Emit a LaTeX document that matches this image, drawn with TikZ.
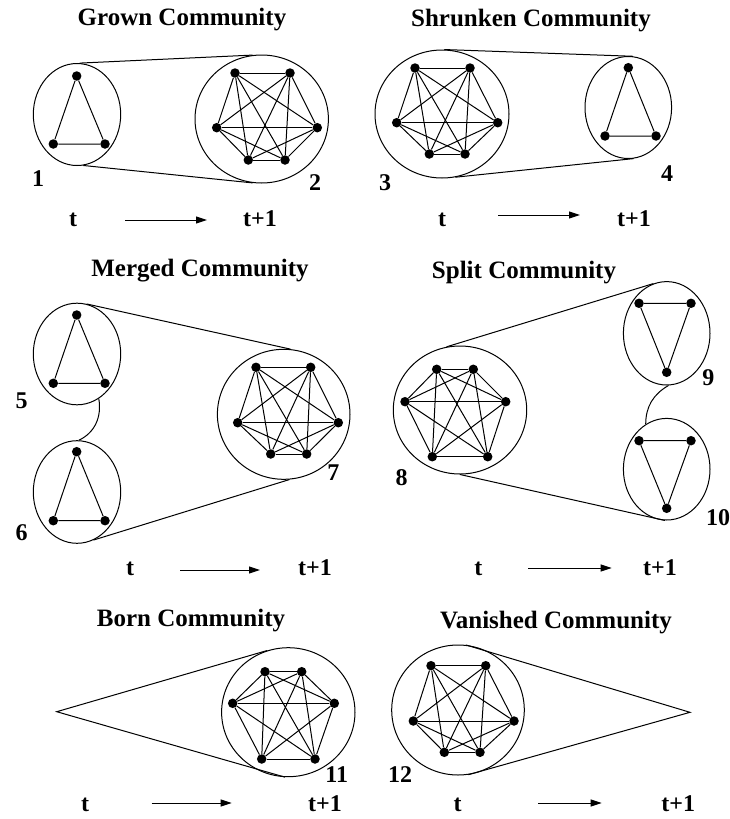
\documentclass[tikz,border=0pt]{standalone}
\usepackage{fontspec}
\setmainfont{Liberation Serif}
\usetikzlibrary{shapes.geometric,arrows.meta}
\tikzset{
 dot/.style={circle,fill=black,inner sep=0pt,minimum size=9.5pt},
 edge/.style={line width=1pt},
 comm/.style={draw,ellipse,inner sep=0pt,line width=1pt},
 ttl/.style={font=\fontsize{25}{28}\selectfont\bfseries,anchor=base},
 lbl/.style={font=\fontsize{24}{28}\selectfont\bfseries,anchor=base},
 tarrow/.style={line width=1pt,-{Triangle[length=11pt,width=7pt]}},
}
\newcommand{\kfull}[7]{%
 \node[dot] (#1a) at (#2) {};
 \node[dot] (#1b) at (#3) {};
 \node[dot] (#1c) at (#4) {};
 \node[dot] (#1d) at (#5) {};
 \node[dot] (#1e) at (#6) {};
 \node[dot] (#1f) at (#7) {};
 \foreach \u/\v in {a/b,a/c,a/d,a/e,a/f,b/c,b/d,b/e,b/f,c/d,c/e,c/f,d/e,d/f,e/f}
   \draw[edge] (#1\u) -- (#1\v);
}
\newcommand{\ktri}[4]{%
 \node[dot] (#1a) at (#2) {};
 \node[dot] (#1b) at (#3) {};
 \node[dot] (#1c) at (#4) {};
 \draw[edge] (#1a) -- (#1b) -- (#1c) -- (#1a);
}
\begin{document}
\begin{tikzpicture}[x=1pt,y=-1pt]
\fill[white] (0,0) rectangle (729,819);
\useasboundingbox (0,0) rectangle (729,819);

% ---------- Panel 1: Grown
\node[ttl] (t1) at (182,25) {Grown Community};
\node[comm,minimum width=87.4pt,minimum height=102pt] (c1) at (77,114.5) {};
\node[comm,minimum width=133.4pt,minimum height=128pt] (c2) at (261.7,119) {};
\draw[edge] (c1.87) -- (c2.98);
\draw[edge] (c1.-83) -- (c2.-98);
\ktri{g}{76.7,76}{53.3,144}{105,144}
\kfull{G}{235,73}{290,73}{216.7,127.7}{317.3,127.7}{248.3,160}{285,160}
\node[lbl] (n1) at (38,186.7) {1};
\node[lbl] (n2) at (315,190.7) {2};
\node[lbl] (ta1) at (73,226.7) {t};
\node[lbl] (tb1) at (260,226.7) {t+1};
\coordinate (a1s) at (125,220); \coordinate (a1e) at (207,220);
\draw[tarrow] (a1s) -- (a1e);

% ---------- Panel 2: Shrunken
\node[ttl] (t2) at (531,26.7) {Shrunken Community};
\node[comm,minimum width=134pt,minimum height=128pt] (c3) at (442,114) {};
\node[comm,minimum width=86.6pt,minimum height=102pt] (c4) at (628.3,107.5) {};
\draw[edge] (c3.88) -- (c4.85);
\draw[edge] (c3.-78) -- (c4.-84);
\kfull{S}{415,68}{470,68}{396.7,122.7}{497.7,122.7}{429.3,154}{465,154}
\ktri{s}{628.3,67.7}{605,136}{656,136}
\node[lbl] (n3) at (385,190) {3};
\node[lbl] (n4) at (667,181.7) {4};
\node[lbl] (ta2) at (442,226.7) {t};
\node[lbl] (tb2) at (634,226.7) {t+1};
\coordinate (a2s) at (498,215); \coordinate (a2e) at (580,215);
\draw[tarrow] (a2s) -- (a2e);

% ---------- Panel 3: Merged
\node[ttl] (t3) at (200,276.7) {Merged Community};
\node[comm,minimum width=87.4pt,minimum height=101.6pt] (c5) at (77,354) {};
\node[comm,minimum width=87.4pt,minimum height=102.6pt] (c6) at (77,492) {};
\node[comm,minimum width=132.6pt,minimum height=130pt] (c7) at (283.7,414.3) {};
\draw[edge] (c5.-64) to[out=-80,in=25] (c6.88);
\draw[edge] (c5.79) -- (c7.84);
\draw[edge] (c6.-71) -- (c7.-85);
\ktri{m}{76.7,315}{53.3,383.3}{105,383.3}
\ktri{q}{76.7,451.7}{53.3,520.7}{105,520.7}
\kfull{M}{256,367.3}{310.7,367.3}{237.7,422.7}{338.3,422.7}{270.7,454}{306.7,454}
\node[lbl] (n5) at (21.7,408.3) {5};
\node[lbl] (n6) at (21.7,540) {6};
\node[lbl] (n7) at (333.3,480) {7};
\node[lbl] (ta3) at (130,575) {t};
\node[lbl] (tb3) at (315,575) {t+1};
\coordinate (a3s) at (180,570); \coordinate (a3e) at (260,570);
\draw[tarrow] (a3s) -- (a3e);

% ---------- Panel 4: Split
\node[ttl] (t4) at (524,278.3) {Split Community};
\node[comm,minimum width=133.4pt,minimum height=128pt] (c8) at (460,410) {};
\node[comm,minimum width=86.6pt,minimum height=103.4pt] (c9) at (666.7,333.3) {};
\node[comm,minimum width=86.6pt,minimum height=101.6pt] (c10) at (666.7,469.2) {};
\draw[edge] (c9.-88) to[out=-150,in=90] (c10.115);
\draw[edge] (c8.102) -- (c9.105);
\draw[edge] (c8.-90) -- (c10.-92);
\kfull{P}{436.7,369.3}{473.3,369.3}{405,401.7}{505.7,401.7}{432.3,456.7}{487.7,456.7}
\ktri{p}{639,303.3}{691,303.3}{666.7,372.3}
\ktri{r}{639,440.7}{691,440.7}{666.7,508.3}
\node[lbl] (n8) at (401.7,485) {8};
\node[lbl] (n9) at (708.3,385) {9};
\node[lbl] (n10) at (718,525) {10};
\node[lbl] (ta4) at (478.3,575) {t};
\node[lbl] (tb4) at (660,575) {t+1};
\coordinate (a4s) at (528.3,568); \coordinate (a4e) at (611.7,568);
\draw[tarrow] (a4s) -- (a4e);

% ---------- Panel 5: Born
\node[ttl] (t5) at (191,626.7) {Born Community};
\node[comm,minimum width=133.4pt,minimum height=129pt] (c11) at (288.3,712.2) {};
\coordinate (ap5) at (56.7,711.7);
\draw[edge] (c11.109) -- (ap5) -- (c11.-93);
\kfull{B}{265,671.7}{301.7,671.7}{232.7,703.3}{334.3,703.3}{261.7,759}{315,759}
\node[lbl] (n11) at (336.7,782.3) {11};
\node[lbl] (ta5) at (85,811) {t};
\node[lbl] (tb5) at (325,811) {t+1};
\coordinate (a5s) at (151.7,803); \coordinate (a5e) at (231.7,803);
\draw[tarrow] (a5s) -- (a5e);

% ---------- Panel 6: Vanished
\node[ttl] (t6) at (556,628.3) {Vanished Community};
\node[comm,minimum width=132.6pt,minimum height=130pt] (c12) at (458,710) {};
\coordinate (ap6) at (690,712.3);
\draw[edge] (c12.83.5) -- (ap6) -- (c12.-81);
\kfull{V}{431,665.7}{485.7,665.7}{413.3,721}{514,721}{444.3,752.3}{480,752.3}
\node[lbl] (n12) at (400,782.3) {12};
\node[lbl] (ta6) at (457.7,811) {t};
\node[lbl] (tb6) at (678.3,811) {t+1};
\coordinate (a6s) at (538.3,803); \coordinate (a6e) at (601.7,803);
\draw[tarrow] (a6s) -- (a6e);
\end{tikzpicture}
\end{document}
